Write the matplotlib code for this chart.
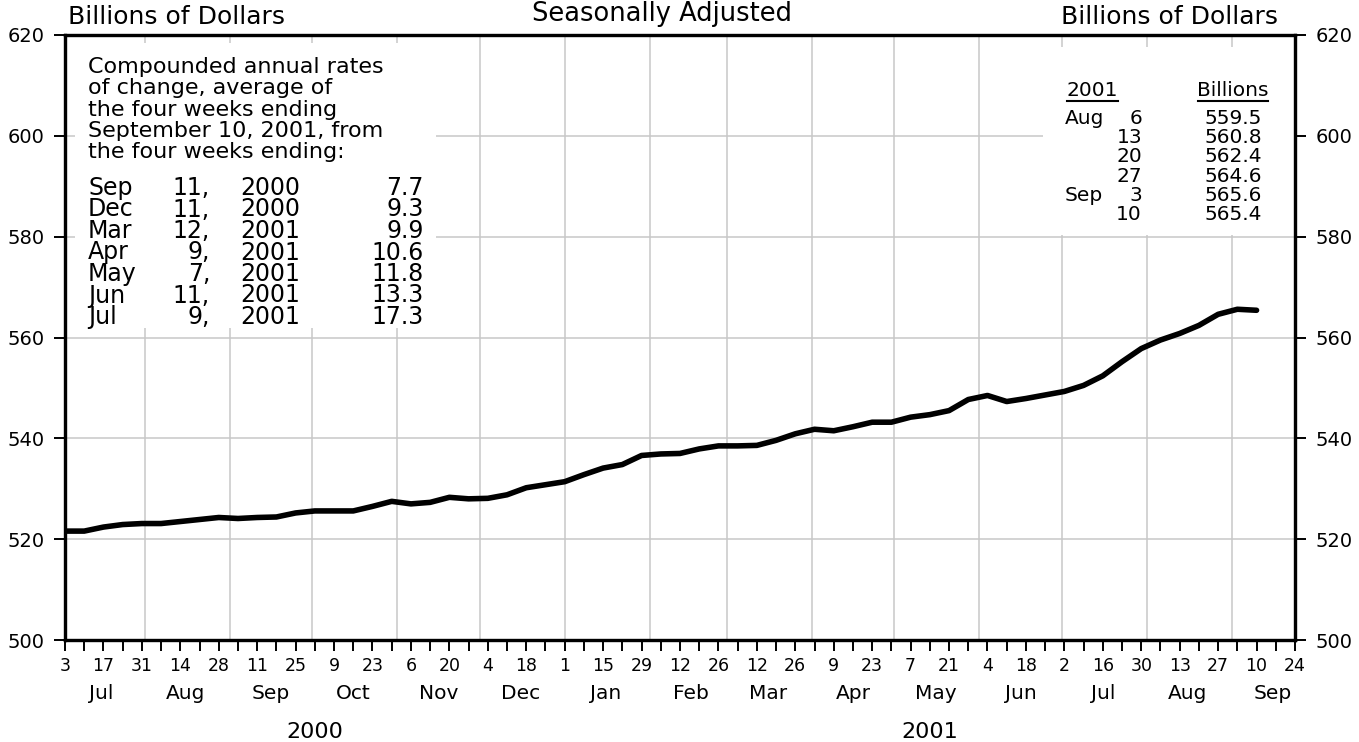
import numpy as np
import pandas as pd
import matplotlib
matplotlib.use("Agg")
import matplotlib.pyplot as plt
from matplotlib.patches import Rectangle
from matplotlib.lines import Line2D

# weekly money stock, billions of dollars, seasonally adjusted
m1Values = [521.6, 521.6, 522.4, 522.9, 523.1, 523.1, 523.5, 523.9, 524.3, 524.1,
            524.3, 524.4, 525.2, 525.6, 525.6, 525.6, 526.5, 527.5, 527.0, 527.3,
            528.3, 528.0, 528.1, 528.8, 530.2, 530.8, 531.4, 532.8, 534.1, 534.8,
            536.6, 536.9, 537.0, 537.9, 538.5, 538.5, 538.6, 539.6, 540.9, 541.8,
            541.5, 542.3, 543.2, 543.2, 544.2, 544.7, 545.5, 547.7, 548.5, 547.3,
            547.9, 548.6, 549.3, 550.5, 552.4, 555.2, 557.8, 559.5, 560.8, 562.4,
            564.6, 565.6, 565.4]
weekEnding = pd.date_range("2000-07-03", periods=len(m1Values), freq="7D")

yTicks = [500, 520, 540, 560, 580, 600, 620]
monthNames = ["Jul", "Aug", "Sep", "Oct", "Nov", "Dec", "Jan", "Feb", "Mar",
              "Apr", "May", "Jun", "Jul", "Aug", "Sep"]
yearNames = ["2000", "2001"]

noteLines = ["Compounded annual rates", "of change, average of",
             "the four weeks ending", "September 10, 2001, from",
             "the four weeks ending:"]
rateMonths = ["Sep", "Dec", "Mar", "Apr", "May", "Jun", "Jul"]
rateDays = [11, 11, 12, 9, 7, 11, 9]
rateYears = [2000, 2000, 2001, 2001, 2001, 2001, 2001]
rateValues = [7.7, 9.3, 9.9, 10.6, 11.8, 13.3, 17.3]

recentMonths = ["Aug", "", "", "", "Sep", ""]
recentDays = [6, 13, 20, 27, 3, 10]
recentValues = [559.5, 560.8, 562.4, 564.6, 565.6, 565.4]

W, H = 1359, 742
plt.rcParams['font.family'] = ['DejaVu Sans']


def fp(xp, yp):
	# pixel position -> figure fraction
	return xp / W, 1 - yp / H


fig = plt.figure(figsize=(W / 100, H / 100), dpi=100)
ax = fig.add_axes([65 / W, (H - 640) / H, 1230 / W, 605 / H])

xStart = pd.Timestamp("2000-07-03")
xEnd = pd.Timestamp("2001-09-24")
ax.set_xlim(xStart, xEnd)
ax.set_ylim(500, 620)

# grid: month starts and every 20 billions
gridColor = "#c8c8c8"
for d in pd.date_range("2000-08-01", "2001-09-01", freq="MS"):
	ax.axvline(d, color=gridColor, lw=1.1, zorder=0)
for v in yTicks[1:-1]:
	ax.axhline(v, color=gridColor, lw=1.1, zorder=0)

# white panels behind the text blocks
ax.add_patch(Rectangle((0.008, 0.516), 0.294, 0.471, transform=ax.transAxes,
                       facecolor="white", edgecolor="none", zorder=1))
ax.add_patch(Rectangle((0.795, 0.669), 0.205, 0.311, transform=ax.transAxes,
                       facecolor="white", edgecolor="none", zorder=1))

ax.plot(weekEnding, m1Values, color="black", lw=4.0, solid_joinstyle="round",
        solid_capstyle="round", zorder=3)

# x ticks every week, labels every second week
tickDates = pd.date_range(xStart, xEnd, freq="7D")
tickLabels = [str(d.day) if i % 2 == 0 else "" for i, d in enumerate(tickDates)]
ax.set_xticks(tickDates)
ax.set_xticklabels(tickLabels)
ax.tick_params(axis="x", direction="out", length=8, width=1.4, labelsize=12.5, pad=4)

ax.set_yticks(yTicks)
ax.set_yticklabels([str(v) for v in yTicks])
ax.tick_params(axis="y", direction="out", length=8, width=1.4, labelsize=14, pad=7)

ax2 = ax.twinx()
ax2.set_ylim(500, 620)
ax2.set_yticks(yTicks)
ax2.set_yticklabels([str(v) for v in yTicks])
ax2.tick_params(axis="y", direction="out", length=8, width=1.4, labelsize=14, pad=7)

for a in (ax, ax2):
	for s in a.spines.values():
		s.set_linewidth(2.3)

# month and year labels under the axis
xTrans = ax.get_xaxis_transform()
monthMids = pd.date_range("2000-07-01", "2001-09-01", freq="MS") + pd.Timedelta(days=15)
for name, d in zip(monthNames, monthMids):
	ax.text(d, -0.088, name, transform=xTrans, ha="center", va="center", fontsize=14.5)
yearMids = [pd.Timestamp("2000-07-03") + (pd.Timestamp("2001-01-01") - pd.Timestamp("2000-07-03")) / 2,
            pd.Timestamp("2001-01-01") + (xEnd - pd.Timestamp("2001-01-01")) / 2]
for name, d in zip(yearNames, yearMids):
	ax.text(d, -0.152, name, transform=xTrans, ha="center", va="center", fontsize=16)

# headings
fig.text(*fp(68, 17), "Billions of Dollars", ha="left", va="center", fontsize=18)
fig.text(*fp(1278, 17), "Billions of Dollars", ha="right", va="center", fontsize=18)
fig.text(*fp(662, 1), "Seasonally Adjusted", ha="center", va="top", fontsize=18.5)

# left note and rate table
for i, line in enumerate(noteLines):
	fig.text(*fp(88, 67 + i * 21.3), line, ha="left", va="center", fontsize=16)
for i in range(len(rateMonths)):
	yp = 188 + i * 21.5
	fig.text(*fp(88, yp), rateMonths[i], ha="left", va="center", fontsize=17)
	fig.text(*fp(210, yp), "{},".format(rateDays[i]), ha="right", va="center", fontsize=17)
	fig.text(*fp(240, yp), str(rateYears[i]), ha="left", va="center", fontsize=17)
	fig.text(*fp(424, yp), "{:.1f}".format(rateValues[i]), ha="right", va="center", fontsize=17)

# right table of recent weeks
fig.text(*fp(1092, 90), "2001", ha="center", va="center", fontsize=14.5)
fig.text(*fp(1233, 90), "Billions", ha="center", va="center", fontsize=14.5)
for x1, x2 in [(1067, 1118), (1198, 1268)]:
	fig.add_artist(Line2D([x1 / W, x2 / W], [1 - 101 / H, 1 - 101 / H],
	                      transform=fig.transFigure, color="black", lw=1.5))
for i in range(len(recentDays)):
	yp = 118 + i * 19.4
	if recentMonths[i]:
		fig.text(*fp(1065, yp), recentMonths[i], ha="left", va="center", fontsize=14.5)
	fig.text(*fp(1142, yp), str(recentDays[i]), ha="right", va="center", fontsize=14.5)
	fig.text(*fp(1262, yp), "{:.1f}".format(recentValues[i]), ha="right", va="center", fontsize=14.5)

fig.savefig("out.png", dpi=100)
